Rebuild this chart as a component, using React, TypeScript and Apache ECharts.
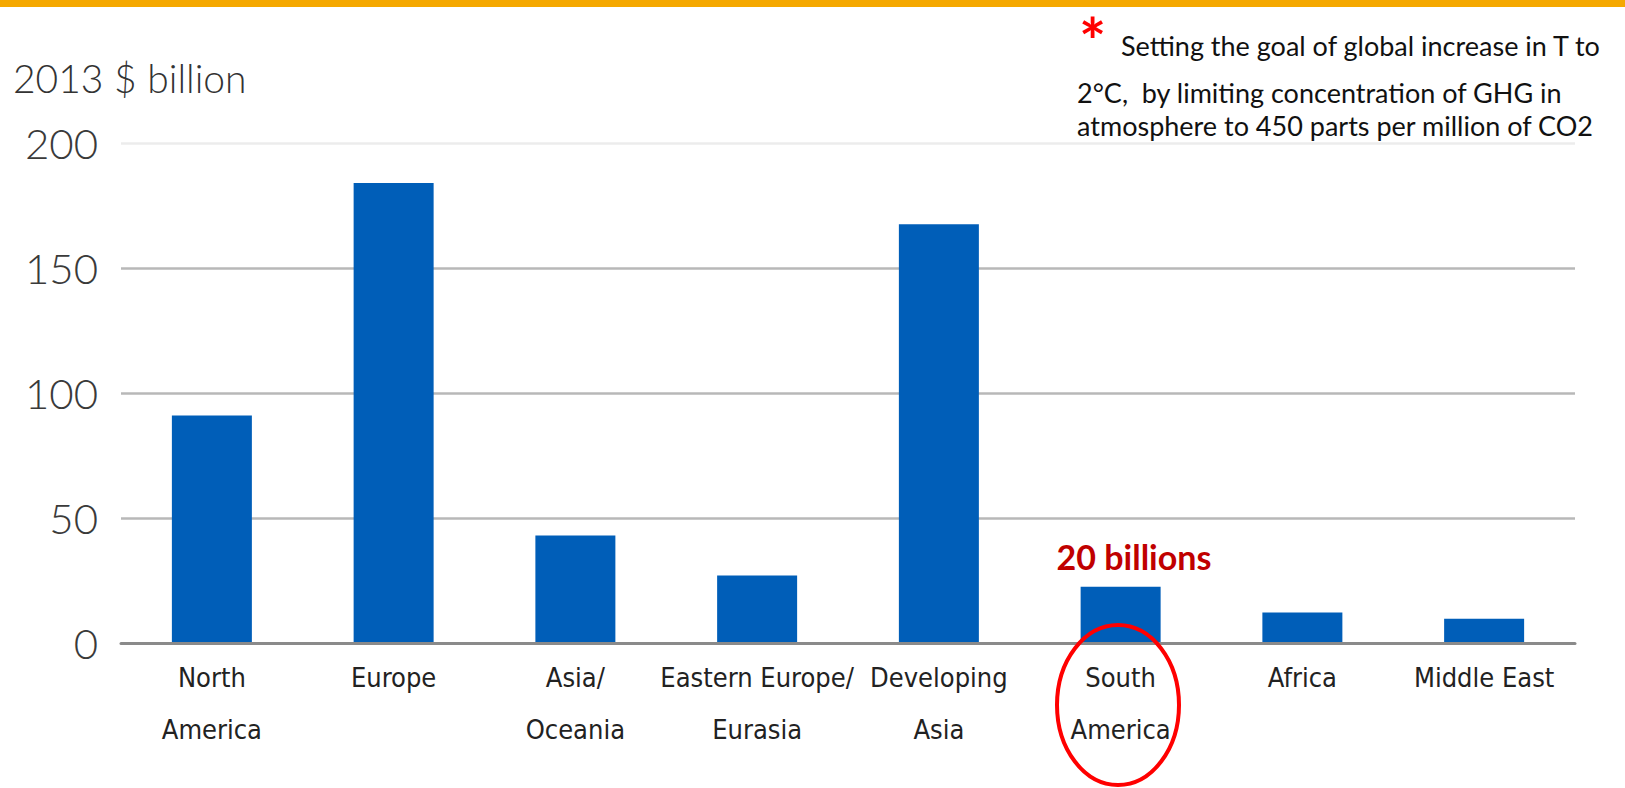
import React, { useEffect, useRef } from "react";
import * as echarts from "echarts";

const categories = [
  "North\nAmerica",
  "Europe",
  "Asia/\nOceania",
  "Eastern Europe/\nEurasia",
  "Developing\nAsia",
  "South\nAmerica",
  "Africa",
  "Middle East",
];
const investment = [91, 184, 43, 27, 167.5, 22.5, 12.2, 9.7];
const yTicks = { min: 0, max: 200, interval: 50 };
const unitTitle = "2013 $ billion";
const highlightText = "20 billions";
const noteLines = [
  "Setting the goal of global increase in T to",
  "2°C,  by limiting concentration of GHG in",
  "atmosphere to 450 parts per million of CO2",
];

export default function App() {
  const ref = useRef<HTMLDivElement>(null);
  useEffect(() => {
    if (!ref.current) return;
    const chart = echarts.init(ref.current, null, { renderer: "svg" });
    const futura = "Lato, 'DejaVu Sans', sans-serif";
    const narrow = "'Liberation Sans Narrow', 'DejaVu Sans Condensed', sans-serif";
    const calibri = "Lato, 'Open Sans', sans-serif";
    chart.setOption({
      animation: false,
      backgroundColor: "#ffffff",
      grid: { left: 121, top: 143, width: 1454, height: 500, containLabel: false },
      xAxis: {
        type: "category",
        data: categories,
        axisTick: { show: false },
        axisLine: { show: true, lineStyle: { color: "#8a8a8a", width: 3 } },
        axisLabel: {
          interval: 0,
          margin: 8,
          fontFamily: narrow,
          fontSize: 27,
          lineHeight: 52,
          color: "#222222",
        },
        z: 5,
      },
      yAxis: {
        type: "value",
        min: yTicks.min,
        max: yTicks.max,
        interval: yTicks.interval,
        axisLine: { show: false },
        axisTick: { show: false },
        axisLabel: {
          margin: 23,
          fontFamily: futura,
          fontWeight: 300,
          fontSize: 42,
          color: "#3a3a3a",
          padding: [6, 0, 0, 0],
        },
        splitLine: {
          lineStyle: { color: ["#8a8a8a", "#b8b8b8", "#b8b8b8", "#b8b8b8", "#ececec"], width: 2.5 },
        },
      },
      series: [
        {
          type: "bar",
          data: investment,
          barWidth: 80,
          itemStyle: { color: "#005EB8" },
          z: 2,
        },
      ],
      graphic: [
        { type: "rect", left: 0, top: 0, shape: { x: 0, y: 0, width: 1625, height: 7 }, style: { fill: "#F5A800" } },
        {
          type: "text",
          x: 13,
          y: 78,
          style: {
            text: unitTitle,
            fontFamily: futura,
            fontWeight: 300,
            fontSize: 39,
            fill: "#333333",
            textVerticalAlign: "middle",
          },
        },
        {
          type: "text",
          x: 1134,
          y: 556,
          style: {
            text: highlightText,
            fontFamily: calibri,
            fontWeight: "bold",
            fontSize: 34,
            fill: "#C00000",
            textAlign: "center",
            textVerticalAlign: "middle",
          },
        },
        {
          type: "ellipse",
          shape: { cx: 1118, cy: 705, rx: 61, ry: 80 },
          style: { fill: "none", stroke: "#FF0000", lineWidth: 4 },
          z: 10,
        },
        {
          type: "text",
          x: 1079,
          y: 8,
          style: {
            text: "*",
            fontFamily: calibri,
            fontWeight: "bold",
            fontSize: 64,
            fill: "#FF0000",
            textVerticalAlign: "top",
          },
        },
        {
          type: "text",
          x: 1121,
          y: 45,
          style: { text: noteLines[0], fontFamily: calibri, fontSize: 27, fill: "#111111", textVerticalAlign: "middle" },
        },
        {
          type: "text",
          x: 1077,
          y: 92,
          style: { text: noteLines[1], fontFamily: calibri, fontSize: 27, fill: "#111111", textVerticalAlign: "middle" },
        },
        {
          type: "text",
          x: 1077,
          y: 125,
          style: { text: noteLines[2], fontFamily: calibri, fontSize: 27, fill: "#111111", textVerticalAlign: "middle" },
        },
      ],
    });
    return () => chart.dispose();
  }, []);
  return (
    <div
      ref={ref}
      style={{ position: "fixed", left: 0, top: 0, width: 1625, height: 788 }}
    />
  );
}
